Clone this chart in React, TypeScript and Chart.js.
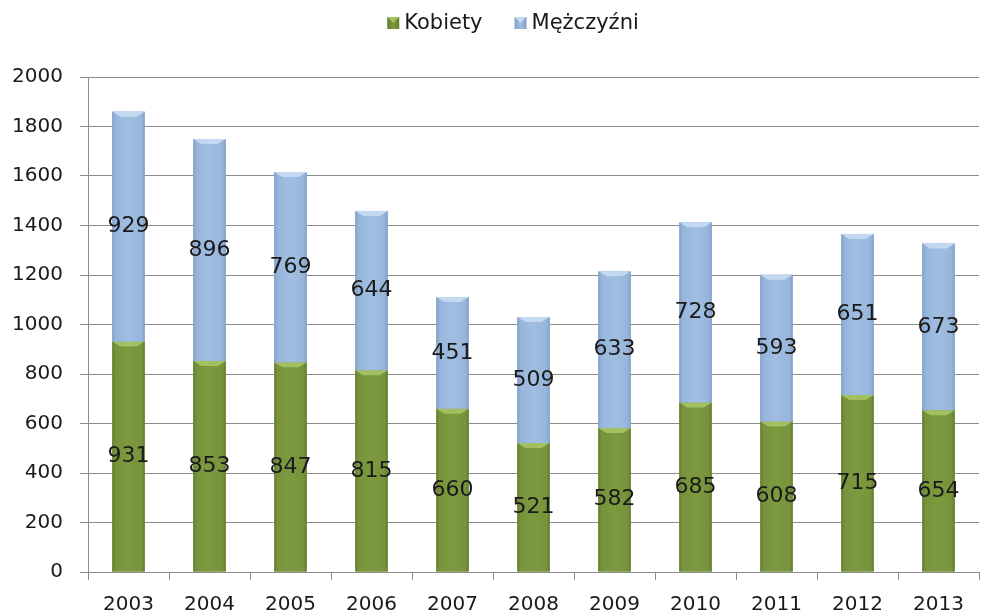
import React, { useEffect, useRef } from "react";
import { Chart, registerables } from "chart.js";

Chart.register(...registerables);

const years = ["2003", "2004", "2005", "2006", "2007", "2008", "2009", "2010", "2011", "2012", "2013"];
const kobiety = [931, 853, 847, 815, 660, 521, 582, 685, 608, 715, 654];
const mezczyzni = [929, 896, 769, 644, 451, 509, 633, 728, 593, 651, 673];
const seriesNames = ["Kobiety", "Mężczyźni"];

const FONT = "'DejaVu Sans', sans-serif";

const palettes = [
  { base: "#77933C", edge: "#627E2E", mid: "#7C9A3F", cap: "#A2C060" },
  { base: "#97B5DA", edge: "#819FC6", mid: "#A1BEE2", cap: "#C4D8F0" },
];

const barStylePlugin = {
  id: "barStyle",
  afterDatasetsDraw(chart: any) {
    const ctx = chart.ctx;
    chart.data.datasets.forEach((ds: any, di: number) => {
      const meta = chart.getDatasetMeta(di);
      const p = palettes[di];
      meta.data.forEach((el: any) => {
        const left = el.x - el.width / 2;
        const right = el.x + el.width / 2;
        const top = Math.min(el.y, el.base);
        const bottom = Math.max(el.y, el.base);
        const w = right - left;
        ctx.save();
        const g = ctx.createLinearGradient(left, 0, right, 0);
        g.addColorStop(0, p.edge);
        g.addColorStop(0.1, p.base);
        g.addColorStop(0.5, p.mid);
        g.addColorStop(0.9, p.base);
        g.addColorStop(1, p.edge);
        ctx.fillStyle = g;
        ctx.fillRect(left, top, w, bottom - top);
        const cap = Math.min(5, (bottom - top) / 2);
        ctx.beginPath();
        ctx.moveTo(left, top);
        ctx.lineTo(right, top);
        ctx.lineTo(right - cap * 1.6, top + cap);
        ctx.lineTo(left + cap * 1.6, top + cap);
        ctx.closePath();
        ctx.fillStyle = p.cap;
        ctx.fill();
        ctx.restore();
      });
    });
    // data labels
    ctx.save();
    ctx.font = `22px ${FONT}`;
    ctx.fillStyle = "#1a1a1a";
    ctx.textAlign = "center";
    ctx.textBaseline = "middle";
    chart.data.datasets.forEach((ds: any, di: number) => {
      const meta = chart.getDatasetMeta(di);
      meta.data.forEach((el: any, i: number) => {
        const cy = (el.y + el.base) / 2;
        ctx.fillText(String(ds.data[i]), el.x, cy);
      });
    });
    ctx.restore();
    // legend
    ctx.save();
    ctx.font = `21px ${FONT}`;
    ctx.textBaseline = "middle";
    ctx.textAlign = "left";
    const cy = 23;
    const box = 12;
    const gapBoxText = 5;
    const gapItems = 32;
    const widths = seriesNames.map((n) => box + gapBoxText + ctx.measureText(n).width);
    const total = widths[0] + gapItems + widths[1];
    let x = 513 - total / 2;
    seriesNames.forEach((n, i) => {
      const p = palettes[i];
      const g = ctx.createLinearGradient(x, 0, x + box, 0);
      g.addColorStop(0, p.edge);
      g.addColorStop(0.5, p.mid);
      g.addColorStop(1, p.edge);
      ctx.fillStyle = g;
      ctx.fillRect(x, cy - box / 2, box, box);
      ctx.beginPath();
      ctx.moveTo(x, cy - box / 2);
      ctx.lineTo(x + box, cy - box / 2);
      ctx.lineTo(x + box / 2, cy);
      ctx.closePath();
      ctx.fillStyle = p.cap;
      ctx.fill();
      ctx.fillStyle = "#1a1a1a";
      ctx.fillText(n, x + box + gapBoxText, cy + 1);
      x += widths[i] + gapItems;
    });
    ctx.restore();
  },
};

export default function App() {
  const ref = useRef<HTMLCanvasElement>(null);
  useEffect(() => {
    if (!ref.current) return;
    const chart = new Chart(ref.current, {
      type: "bar",
      data: {
        labels: years,
        datasets: [
          { label: seriesNames[0], data: kobiety, backgroundColor: palettes[0].base, barPercentage: 0.4, categoryPercentage: 1 },
          { label: seriesNames[1], data: mezczyzni, backgroundColor: palettes[1].base, barPercentage: 0.4, categoryPercentage: 1 },
        ],
      },
      options: {
        animation: false,
        responsive: true,
        maintainAspectRatio: false,
        layout: { padding: { top: 77, right: 2, left: 0, bottom: 0 } },
        plugins: { legend: { display: false }, tooltip: { enabled: false } },
        scales: {
          x: {
            stacked: true,
            offset: true,
            grid: { drawOnChartArea: false, drawTicks: true, tickLength: 8, color: "#8c8c8c", offset: true },
            border: { color: "#8c8c8c" },
            ticks: { font: { family: FONT, size: 20 }, color: "#1a1a1a", padding: 13, maxRotation: 0 },
            afterFit: (s: any) => { s.height = 44; },
          },
          y: {
            stacked: true,
            min: 0,
            max: 2000,
            ticks: {
              stepSize: 200,
              font: { family: FONT, size: 20 },
              color: "#1a1a1a",
              padding: 17,
              callback: (v: any) => String(v),
            },
            grid: { color: "#8c8c8c", tickLength: 8 },
            border: { color: "#8c8c8c" },
            afterFit: (s: any) => { s.width = 88; },
          },
        },
      },
      plugins: [barStylePlugin],
    });
    return () => chart.destroy();
  }, []);
  return (
    <div style={{ position: "absolute", left: 0, top: 0, width: 981, height: 616, background: "#fff" }}>
      <canvas ref={ref} />
    </div>
  );
}
